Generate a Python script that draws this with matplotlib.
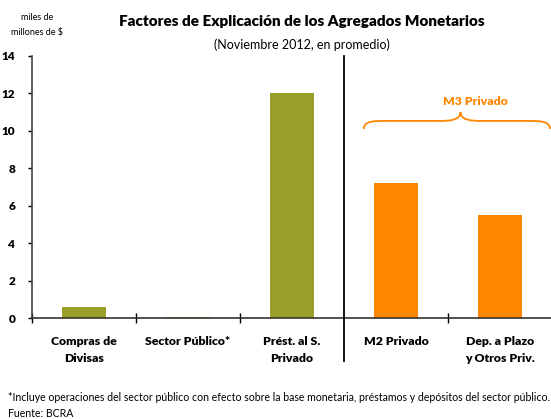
import matplotlib
matplotlib.use("Agg")
import matplotlib.pyplot as plt
from matplotlib.path import Path
from matplotlib.patches import PathPatch

plt.rcParams["font.family"] = ["Lato", "DejaVu Sans"]

# === DATA ===
categories = ["Compras de\nDivisas", "Sector Público*", "Prést. al S.\nPrivado",
              "M2 Privado", "Dep. a Plazo\ny Otros Priv."]
values = [0.6, 0.03, 12.0, 7.2, 5.5]
OLIVE = "#9c9e2c"
ORANGE = "#ff8600"
colors = [OLIVE, OLIVE, OLIVE, ORANGE, ORANGE]
y_ticks = [0, 2, 4, 6, 8, 10, 12, 14]

fig = plt.figure(figsize=(5.51, 4.19), dpi=100)
ax = fig.add_axes([32 / 551, 101 / 419, 520 / 551, 262 / 419])

x = list(range(len(categories)))
ax.bar(x, values, width=0.42, color=colors, zorder=2)

ax.set_xlim(-0.5, 4.5)
ax.set_ylim(0, 14)
ax.set_yticks(y_ticks)
ax.set_yticklabels([str(t) for t in y_ticks], fontweight="heavy", fontsize=8.5)
ax.tick_params(axis="y", direction="out", length=3, width=1, pad=9)

ax.set_xticks(x)
ax.set_xticklabels(categories, fontweight="heavy", fontsize=8.8, linespacing=1.7)
ax.tick_params(axis="x", length=0, pad=13)
ax.set_xticks([-0.5, 0.5, 1.5, 3.5], minor=True)
ax.tick_params(axis="x", which="minor", direction="inout", length=7, width=1)

for s in ["top", "right"]:
    ax.spines[s].set_visible(False)
ax.spines["left"].set_color("#444444")
ax.spines["left"].set_linewidth(1.2)
ax.spines["bottom"].set_color("#333333")
ax.spines["bottom"].set_linewidth(1.2)

# separator between factors and aggregates
ax.plot([2.5, 2.5], [-2.3, 14], color="black", lw=1.3, clip_on=False, zorder=3)

# brace for M3 Privado
x0, xm, x1 = 2.69, 3.62, 4.48
yb, yt, ye = 10.53, 11.0, 10.1
verts = [(x0, ye), (x0, yb), (x0 + 0.1, yb), (x0 + 0.2, yb),
         (xm - 0.2, yb), (xm - 0.1, yb), (xm, yb + 0.05), (xm, yt),
         (xm, yt), (xm, yb + 0.05), (xm + 0.1, yb),
         (xm + 0.2, yb), (x1 - 0.2, yb),
         (x1 - 0.1, yb), (x1, yb), (x1, ye)]
codes = [Path.MOVETO, Path.CURVE4, Path.CURVE4, Path.LINETO,
         Path.LINETO, Path.CURVE4, Path.CURVE4, Path.CURVE4,
         Path.MOVETO, Path.CURVE4, Path.CURVE4, Path.CURVE4,
         Path.LINETO,
         Path.CURVE4, Path.CURVE4, Path.CURVE4]
ax.add_patch(PathPatch(Path(verts, codes), facecolor="none", edgecolor=ORANGE,
                       lw=1.3, clip_on=False))
ax.text(3.76, 11.55, "M3 Privado", color=ORANGE, fontweight="heavy", fontsize=8.8,
        ha="center", va="center")

# titles and notes
fig.text(302 / 551, 1 - 21 / 419, "Factores de Explicación de los Agregados Monetarios",
         ha="center", va="center", fontweight="heavy", fontsize=11)
fig.text(302 / 551, 1 - 45 / 419, "(Noviembre 2012, en promedio)",
         ha="center", va="center", fontsize=9)
fig.text(37 / 551, 1 - 17 / 419, "miles de", ha="center", va="center", fontsize=6.5)
fig.text(37 / 551, 1 - 33 / 419, "millones de $", ha="center", va="center", fontsize=6.5)
fig.text(8 / 551, 1 - 397 / 419,
         "*Incluye operaciones del sector público con efecto sobre la base monetaria, "
         "préstamos y depósitos del sector público.",
         ha="left", va="center", fontsize=7.6)
fig.text(8 / 551, 1 - 413 / 419, "Fuente: BCRA", ha="left", va="center", fontsize=7.6)

fig.savefig("out.png", dpi=100)
